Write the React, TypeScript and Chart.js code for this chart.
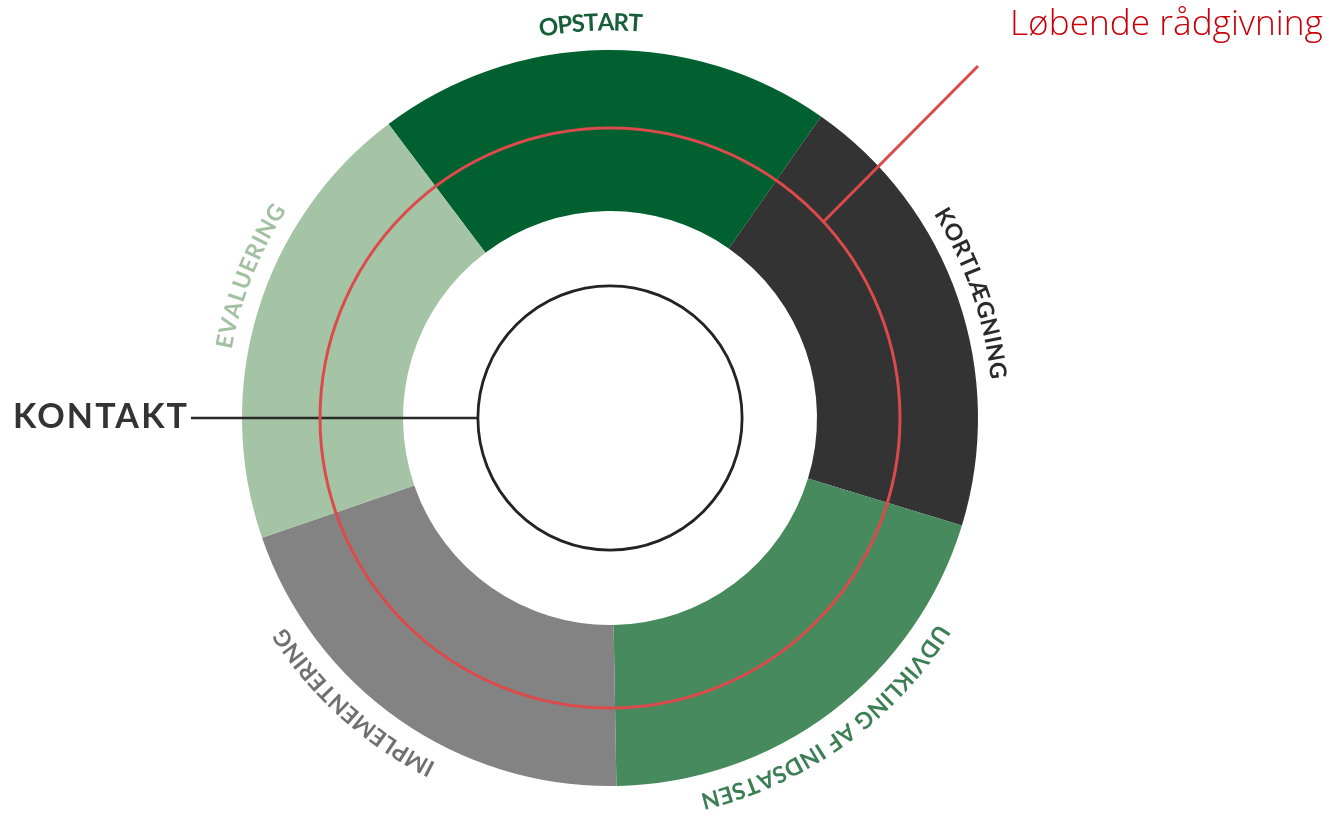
import React, { useEffect, useRef } from "react";
import { Chart, registerables } from "chart.js";

Chart.register(...registerables);

// ---- data ----
const phases = ["OPSTART", "KORTLÆGNING", "UDVIKLING AF INDSATSEN", "IMPLEMENTERING", "EVALUERING"];
const phaseShares = [20, 20, 20, 20, 20];
const centerLabel = "KONTAKT";
const ringLabel = "Løbende rådgivning";

// ---- styles / layout ----
const phaseColors = ["#00602f", "#333333", "#468a5e", "#838383", "#a5c4a5"];
const phaseLabelColors = ["#165f38", "#2a2a2a", "#3d7f55", "#707070", "#a2c1a2"];
const labelCenterDeg = [-2.8, 71, 144.3, 222, 291.5];
const labelSpanDeg = [15.1, 26.5, 44.5, 30.5, 22.5];
const labelRadiusFactor = [1.053, 1.04, 1.05, 1.05, 1.045];
const labelSize = [24, 23, 23, 23, 23];
const labelWeight = [700, 700, 700, 700, 700];

function drawArcText(
  ctx: CanvasRenderingContext2D,
  text: string,
  cx: number,
  cy: number,
  r: number,
  centerDeg: number,
  spanDeg: number,
  font: string,
  color: string
) {
  ctx.save();
  ctx.font = font;
  ctx.fillStyle = color;
  ctx.textAlign = "center";
  ctx.textBaseline = "alphabetic";
  const chars = Array.from(text);
  const widths = chars.map((c) => ctx.measureText(c).width);
  const sum = widths.reduce((a, b) => a + b, 0);
  const target = (spanDeg * Math.PI) / 180 * r;
  const gap = chars.length > 1 ? (target - sum) / (chars.length - 1) : 0;
  const c0 = (centerDeg * Math.PI) / 180;
  let pos = -target / 2;
  chars.forEach((ch, i) => {
    const a = c0 + (pos + widths[i] / 2) / r;
    ctx.save();
    ctx.translate(cx + r * Math.sin(a), cy - r * Math.cos(a));
    ctx.rotate(a);
    ctx.fillText(ch, 0, 0);
    ctx.restore();
    pos += widths[i] + gap;
  });
  ctx.restore();
}

function fitFontSize(ctx: CanvasRenderingContext2D, text: string, family: string, weight: number, targetWidth: number) {
  ctx.save();
  ctx.font = `${weight} 100px ${family}`;
  const w = ctx.measureText(text).width;
  ctx.restore();
  return (100 * targetWidth) / w;
}

const overlayPlugin = {
  id: "overlayPlugin",
  afterDatasetsDraw(chart: any) {
    const ctx: CanvasRenderingContext2D = chart.ctx;
    const arc: any = chart.getDatasetMeta(0).data[0];
    const cx = arc.x;
    const cy = arc.y;
    const R = arc.outerRadius;

    const innerCircleR = R * 0.359;
    const redR = R * 0.788;

    // KONTAKT line
    ctx.save();
    ctx.strokeStyle = "#2a2a2a";
    ctx.lineWidth = 2.5;
    ctx.beginPath();
    ctx.moveTo(191, cy);
    ctx.lineTo(cx - innerCircleR, cy);
    ctx.stroke();
    ctx.restore();

    // red ring + pointer
    ctx.save();
    ctx.strokeStyle = "#dc4a4c";
    ctx.lineWidth = 3;
    ctx.beginPath();
    ctx.arc(cx, cy, redR, 0, Math.PI * 2);
    ctx.stroke();
    const pa = (47.4 * Math.PI) / 180;
    ctx.beginPath();
    ctx.moveTo(cx + redR * Math.sin(pa), cy - redR * Math.cos(pa));
    ctx.lineTo(978, 66);
    ctx.stroke();
    ctx.restore();

    // inner black circle
    ctx.save();
    ctx.strokeStyle = "#232323";
    ctx.lineWidth = 2.8;
    ctx.beginPath();
    ctx.arc(cx, cy, innerCircleR, 0, Math.PI * 2);
    ctx.stroke();
    ctx.restore();

    // KONTAKT text
    ctx.save();
    const kFamily = "Lato, 'Open Sans', sans-serif";
    ctx.font = `700 34px ${kFamily}`;
    const kw = ctx.measureText(centerLabel).width;
    const kSpacing = (174 - kw) / (centerLabel.length - 1);
    (ctx as any).letterSpacing = `${kSpacing}px`;
    ctx.fillStyle = "#333333";
    ctx.textAlign = "left";
    ctx.textBaseline = "alphabetic";
    ctx.fillText(centerLabel, 13, 428);
    ctx.restore();

    // Løbende rådgivning
    ctx.save();
    const rFamily = "'Open Sans', 'Noto Sans', sans-serif";
    const rSize = fitFontSize(ctx, ringLabel, rFamily, 300, 313);
    ctx.font = `300 ${rSize}px ${rFamily}`;
    ctx.fillStyle = "#c8000a";
    ctx.textAlign = "left";
    ctx.textBaseline = "alphabetic";
    ctx.fillText(ringLabel, 1010, 35);
    ctx.restore();

    // curved phase labels
    phases.forEach((p, i) => {
      drawArcText(
        ctx,
        p,
        cx,
        cy,
        R * labelRadiusFactor[i],
        labelCenterDeg[i],
        labelSpanDeg[i],
        `${labelWeight[i]} ${labelSize[i]}px Lato, 'Open Sans', sans-serif`,
        phaseLabelColors[i]
      );
    });
  },
};

export default function App() {
  const canvasRef = useRef<HTMLCanvasElement | null>(null);

  useEffect(() => {
    if (!canvasRef.current) return;
    const chart = new Chart(canvasRef.current, {
      type: "doughnut",
      data: {
        labels: phases,
        datasets: [
          {
            data: phaseShares,
            backgroundColor: phaseColors,
            borderWidth: 0,
            hoverOffset: 0,
          },
        ],
      },
      options: {
        responsive: false,
        animation: false,
        rotation: -37,
        cutout: 207,
        layout: { padding: { left: 242, top: 50, right: 354, bottom: 29 } },
        plugins: {
          legend: { display: false },
          tooltip: { enabled: false },
        },
        events: [],
      },
      plugins: [overlayPlugin],
    });
    return () => chart.destroy();
  }, []);

  return (
    <div style={{ position: "absolute", left: 0, top: 0, width: 1332, height: 815, background: "#ffffff" }}>
      <canvas ref={canvasRef} width={1332} height={815} />
    </div>
  );
}
